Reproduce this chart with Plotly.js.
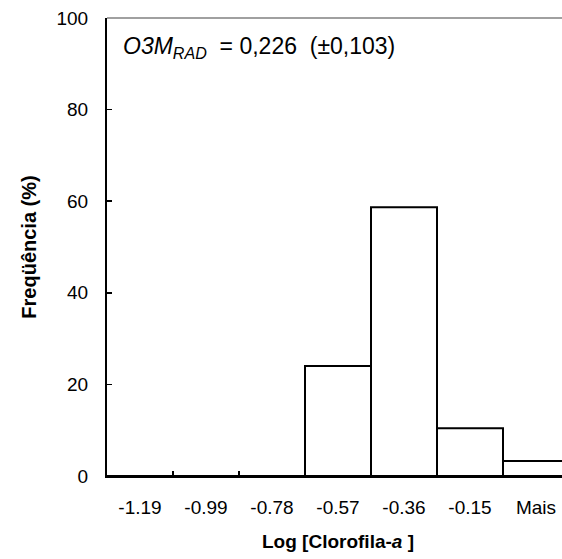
<!DOCTYPE html>
<html>
<head>
<meta charset="utf-8">
<script src="https://cdn.plot.ly/plotly-3.0.1.min.js"></script>
<style>
html, body { margin: 0; padding: 0; overflow: hidden; background: #fff; }
#chart { width: 580px; height: 559px; }
</style>
</head>
<body>
<div id="chart"></div>
<script>
var categories = ["-1.19", "-0.99", "-0.78", "-0.57", "-0.36", "-0.15", "Mais"];
var frequencia = [0, 0, 0, 24.0, 58.7, 10.4, 3.3];
var yTicks = [0, 20, 40, 60, 80, 100];
var annotationText = "<i>O3M</i><sub><i>RAD</i></sub>\u00a0 = 0,226 \u00a0(±0,103)";

var fontFamily = "Liberation Sans, Arial, sans-serif";

var trace = {
  type: "bar",
  x: categories,
  y: frequencia,
  marker: { color: "#ffffff", line: { color: "#000000", width: 2 } },
  hoverinfo: "x+y"
};

var layout = {
  width: 580,
  height: 559,
  margin: { l: 107, r: 11, t: 18, b: 83 },
  paper_bgcolor: "#ffffff",
  plot_bgcolor: "#ffffff",
  bargap: 0,
  showlegend: false,
  font: { family: fontFamily, color: "#000000", size: 19 },
  xaxis: {
    type: "category",
    categoryorder: "array",
    categoryarray: categories,
    range: [-0.5, 6.5],
    showline: true,
    linecolor: "#000000",
    linewidth: 2,
    showgrid: false,
    zeroline: false,
    ticks: "inside",
    tickson: "boundaries",
    ticklen: 5,
    tickwidth: 1.5,
    tickcolor: "#000000",
    ticklabelstandoff: 13,
    tickfont: { family: fontFamily, size: 19 },
    title: { text: "<b>Log [Clorofila-<i>a</i> ]</b>", font: { family: fontFamily, size: 19 }, standoff: 18 }
  },
  yaxis: {
    range: [0, 100],
    tickvals: yTicks,
    ticktext: yTicks.map(String),
    showline: true,
    linecolor: "#000000",
    linewidth: 2,
    showgrid: false,
    zeroline: false,
    ticks: "inside",
    ticklen: 5,
    tickwidth: 1.5,
    tickcolor: "#000000",
    ticklabelstandoff: 13,
    tickfont: { family: fontFamily, size: 19 },
    title: { text: "<b>Freqüência (%)</b>", font: { family: fontFamily, size: 20 }, standoff: 14 }
  },
  shapes: [
    { type: "line", xref: "paper", yref: "paper", x0: 0, x1: 1, y0: 1, y1: 1,
      line: { color: "#808080", width: 1.5 } }
  ],
  annotations: [
    { xref: "paper", yref: "paper", x: 0.03, y: 0.935, xanchor: "left", yanchor: "middle",
      text: annotationText, showarrow: false, font: { family: fontFamily, size: 23, color: "#000000" } }
  ]
};

Plotly.newPlot("chart", [trace], layout, { displayModeBar: false, staticPlot: true });
</script>
</body>
</html>
